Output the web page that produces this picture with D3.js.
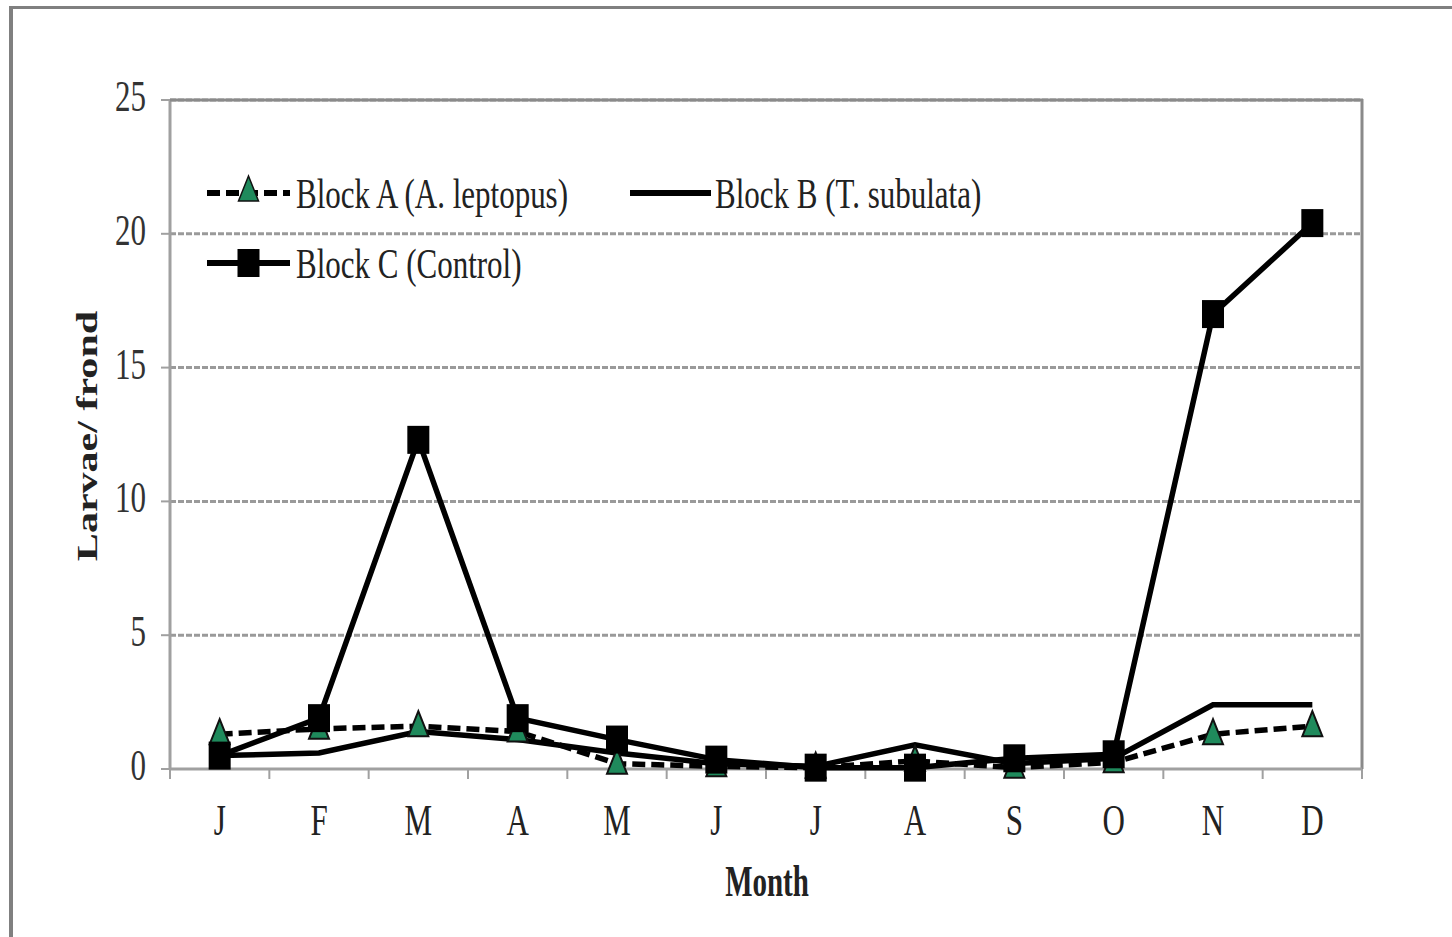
<!DOCTYPE html>
<html>
<head>
<meta charset="utf-8">
<script src="https://cdn.jsdelivr.net/npm/d3@7"></script>
<style>
  html, body { margin: 0; padding: 0; background: #fff; }
  svg { display: block; }
  text { font-family: "Liberation Serif", "Times New Roman", serif; }
</style>
</head>
<body>
<svg id="chart" width="1452" height="937"></svg>
<script>
// Monthly larval counts per frond for the three blocks
const months = ["J", "F", "M", "A", "M", "J", "J", "A", "S", "O", "N", "D"];
const blockA = [1.3, 1.5, 1.6, 1.4, 0.2, 0.1, 0.05, 0.3, 0.05, 0.25, 1.3, 1.6];
const blockB = [0.5, 0.6, 1.4, 1.1, 0.6, 0.2, 0.1, 0.9, 0.2, 0.4, 2.4, 2.4];
const blockC = [0.5, 1.9, 12.3, 1.9, 1.1, 0.35, 0.05, 0.05, 0.4, 0.55, 17.0, 20.4];
const yTicks = [0, 5, 10, 15, 20, 25];
const seriesNames = ["Block A (A. leptopus)", "Block B (T. subulata)", "Block C (Control)"];

const svg = d3.select("#chart");
const margin = { left: 170, right: 1362, top: 100, bottom: 769 };
const stretch = 1.42; // tall, narrow lettering

// outer frame (top and left edges)
svg.append("line").attr("x1", 10).attr("x2", 1452).attr("y1", 7.5).attr("y2", 7.5)
  .attr("stroke", "#808080").attr("stroke-width", 3);
svg.append("line").attr("x1", 11).attr("x2", 11).attr("y1", 6).attr("y2", 937)
  .attr("stroke", "#808080").attr("stroke-width", 4);

// x positions are band-based: one slot per month
const x = d3.scaleBand().domain(d3.range(months.length))
  .range([margin.left, margin.right]).paddingInner(0).paddingOuter(0);
const xc = i => x(i) + x.bandwidth() / 2;
const y = d3.scaleLinear().domain([0, 25]).range([margin.bottom, margin.top]);

// horizontal gridlines
svg.append("g").selectAll("line").data(yTicks.filter(d => d > 0)).join("line")
  .attr("x1", margin.left).attr("x2", margin.right)
  .attr("y1", d => y(d)).attr("y2", d => y(d))
  .attr("stroke", "#9a9a9a").attr("stroke-width", 3)
  .attr("stroke-dasharray", "6,2");

// plot frame: left and right edges, top edge
svg.append("line").attr("x1", margin.left).attr("x2", margin.left)
  .attr("y1", margin.top).attr("y2", margin.bottom)
  .attr("stroke", "#a0a0a0").attr("stroke-width", 3);
svg.append("line").attr("x1", margin.right).attr("x2", margin.right)
  .attr("y1", margin.top - 1).attr("y2", margin.bottom)
  .attr("stroke", "#8a8a8a").attr("stroke-width", 3);
svg.append("line").attr("x1", margin.left).attr("x2", margin.right + 1)
  .attr("y1", margin.top).attr("y2", margin.top)
  .attr("stroke", "#8a8a8a").attr("stroke-width", 3);

// y axis ticks and labels
const yAxis = svg.append("g");
yAxis.selectAll("line").data(yTicks).join("line")
  .attr("x1", margin.left - 9).attr("x2", margin.left)
  .attr("y1", d => y(d)).attr("y2", d => y(d))
  .attr("stroke", "#a0a0a0").attr("stroke-width", 2);
yAxis.selectAll("text").data(yTicks).join("text")
  .attr("transform", d => `translate(146,${y(d) + 11}) scale(1,${stretch})`)
  .attr("text-anchor", "end").attr("font-size", 31).attr("fill", "#333")
  .text(d => d);

// x axis line, ticks between months, month labels
svg.append("line").attr("x1", margin.left).attr("x2", margin.right)
  .attr("y1", margin.bottom).attr("y2", margin.bottom)
  .attr("stroke", "#a0a0a0").attr("stroke-width", 3);
svg.append("g").selectAll("line").data(d3.range(months.length + 1)).join("line")
  .attr("x1", i => i < months.length ? x(i) : margin.right)
  .attr("x2", i => i < months.length ? x(i) : margin.right)
  .attr("y1", margin.bottom).attr("y2", margin.bottom + 10)
  .attr("stroke", "#a0a0a0").attr("stroke-width", 2);
svg.append("g").selectAll("text").data(months).join("text")
  .attr("transform", (d, i) => `translate(${xc(i)},${835}) scale(1,${stretch})`)
  .attr("text-anchor", "middle").attr("font-size", 31).attr("fill", "#222")
  .text(d => d);

// axis titles
svg.append("text")
  .attr("transform", `translate(767,896) scale(1,1.5)`)
  .attr("text-anchor", "middle").attr("font-size", 29).attr("font-weight", "bold")
  .attr("fill", "#222").text("Month");
svg.append("text")
  .attr("transform", `translate(97,436) rotate(-90) scale(1.45,1)`)
  .attr("text-anchor", "middle").attr("font-size", 29).attr("font-weight", "bold")
  .attr("fill", "#222").text("Larvae/ frond");

// series lines
const line = d3.line().x((d, i) => xc(i)).y(d => y(d));
const plot = svg.append("g");
plot.append("path").datum(blockA).attr("d", line)
  .attr("fill", "none").attr("stroke", "#000").attr("stroke-width", 5.5)
  .attr("stroke-dasharray", "13,6");
plot.append("path").datum(blockB).attr("d", line)
  .attr("fill", "none").attr("stroke", "#000").attr("stroke-width", 5.5);

// triangle markers for block A
const tri = (cx, cy) => `M${cx},${cy - 15} L${cx + 10},${cy + 10} L${cx - 10},${cy + 10} Z`;
plot.append("g").selectAll("path").data(blockA).join("path")
  .attr("d", (d, i) => tri(xc(i), y(d)))
  .attr("fill", "#1f8a5c").attr("stroke", "#111").attr("stroke-width", 2);

plot.append("path").datum(blockC).attr("d", line)
  .attr("fill", "none").attr("stroke", "#000").attr("stroke-width", 5.5);
plot.append("g").selectAll("rect").data(blockC).join("rect")
  .attr("x", (d, i) => xc(i) - 11).attr("y", d => y(d) - 14)
  .attr("width", 22).attr("height", 28).attr("fill", "#000");

// legend
const legend = svg.append("g");
const legendRows = [
  { name: seriesNames[0], x0: 207, x1: 290, ly: 193, tx: 296, dash: "13,6", marker: "tri" },
  { name: seriesNames[1], x0: 630, x1: 711, ly: 193, tx: 715, dash: null, marker: null },
  { name: seriesNames[2], x0: 207, x1: 290, ly: 263, tx: 296, dash: null, marker: "sq" }
];
legendRows.forEach(r => {
  legend.append("line").attr("x1", r.x0).attr("x2", r.x1).attr("y1", r.ly).attr("y2", r.ly)
    .attr("stroke", "#000").attr("stroke-width", 6)
    .attr("stroke-dasharray", r.dash);
  const mx = (r.x0 + r.x1) / 2;
  if (r.marker === "tri") {
    legend.append("path").attr("d", tri(mx, r.ly - 2))
      .attr("fill", "#1f8a5c").attr("stroke", "#111").attr("stroke-width", 1.5);
  } else if (r.marker === "sq") {
    legend.append("rect").attr("x", mx - 11).attr("y", r.ly - 14)
      .attr("width", 22).attr("height", 28).attr("fill", "#000");
  }
  legend.append("text")
    .attr("transform", `translate(${r.tx},${r.ly + 15}) scale(1,1.38)`)
    .attr("font-size", 31).attr("fill", "#222").text(r.name);
});
</script>
</body>
</html>
